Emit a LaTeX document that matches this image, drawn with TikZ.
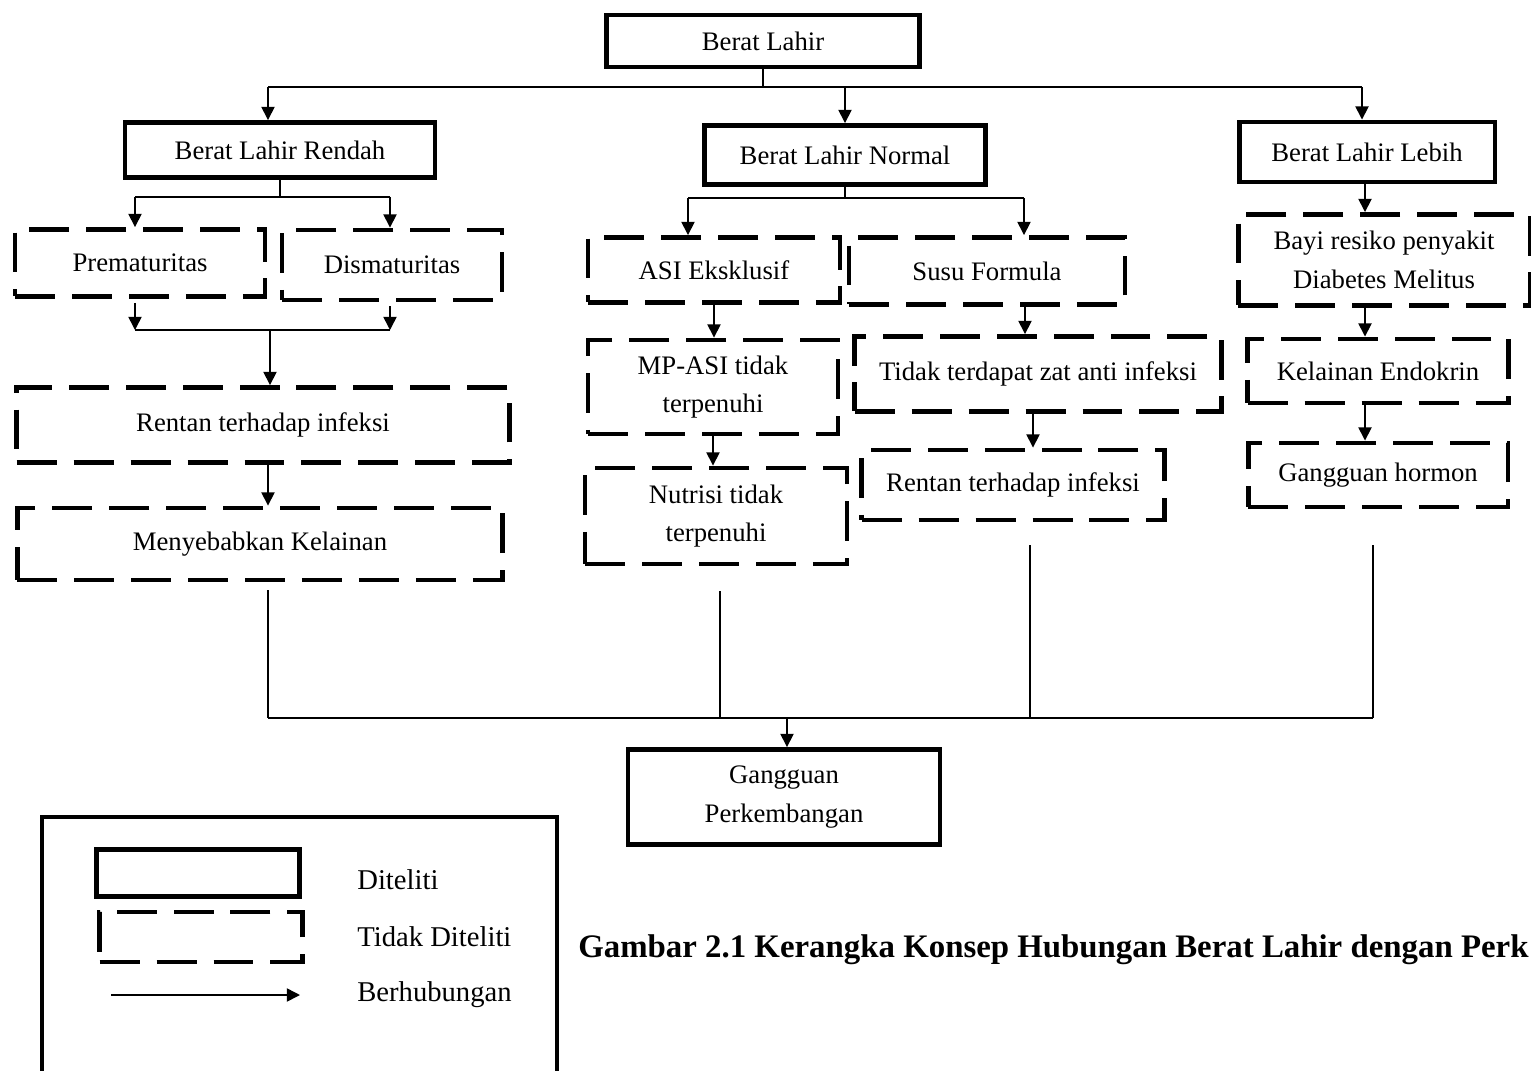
\documentclass[tikz,border=0pt]{standalone}
\usepackage{fontspec}
\setmainfont{Liberation Serif}
\usetikzlibrary{arrows.meta}

\begin{document}
\begin{tikzpicture}[x=0.02cm,y=-0.02cm,
	diteliti/.style={draw, line width=2.8pt, inner sep=0pt, align=center,
		font=\fontsize{15.2}{22}\selectfont},
	tdkditeliti/.style={diteliti, dash pattern=on 0.8cm off 0.34cm},
	garis/.style={line width=0.9pt},
	panah/.style={garis, -{Triangle[length=7.5pt,width=7.5pt]}},
	ket/.style={anchor=west, inner sep=0pt, font=\fontsize{16.3}{18}\selectfont}]

	\useasboundingbox (0,0) rectangle (1531,1071);
	\clip (0,0) rectangle (1531,1071);

	% kotak utama
	\node[diteliti, minimum width=6.26cm, minimum height=1.04cm] (bl) at (763,41) {Berat Lahir};
	\node[diteliti, minimum width=6.2cm, minimum height=1.1cm] (blr) at (280,150) {Berat Lahir Rendah};
	\node[diteliti, minimum width=5.62cm, minimum height=1.18cm] (bln) at (845,155) {Berat Lahir Normal};
	\node[diteliti, minimum width=5.12cm, minimum height=1.2cm] (bll) at (1367,152) {Berat Lahir Lebih};

	\coordinate (hL) at (268,87);
	\coordinate (hM) at (845,87);
	\coordinate (hR) at (1362,87);
	\draw[garis] (bl.south) -- (bl.south |- hL);
	\draw[garis] (hL) -- (hR);
	\draw[panah] (hL) -- (hL |- blr.north);
	\draw[panah] (hM) -- (bln.north);
	\draw[panah] (hR) -- (hR |- bll.north);

	% berat lahir rendah
	\node[tdkditeliti, minimum width=5cm, minimum height=1.34cm] (pre) at (140,263) {Prematuritas};
	\node[tdkditeliti, minimum width=4.4cm, minimum height=1.4cm] (dis) at (392,265) {Dismaturitas};
	\node[tdkditeliti, minimum width=9.86cm, minimum height=1.5cm] (rin1) at (263,425) {Rentan terhadap infeksi};
	\node[tdkditeliti, minimum width=9.72cm, minimum height=1.44cm] (men) at (260,544) {Menyebabkan Kelainan};

	\coordinate (rA) at (135,197);
	\coordinate (rB) at (390,197);
	\coordinate (rC) at (135,330);
	\coordinate (rD) at (390,330);
	\coordinate (rE) at (270,330);
	\draw[garis] (blr.south) -- (blr.south |- rA);
	\draw[garis] (rA) -- (rB);
	\draw[panah] (rA) -- (rA |- pre.north);
	\draw[panah] (rB) -- (rB |- dis.north);
	\draw[panah] (rA |- pre.south) ++(0,4) -- (rC);
	\draw[panah] (rB |- dis.south) ++(0,4) -- (rD);
	\draw[garis] (rC) -- (rD);
	\draw[panah] (rE) -- (rE |- rin1.north);
	\draw[panah] (rin1.south -| 268,0) -- (men.north -| 268,0);

	% berat lahir normal
	\node[tdkditeliti, minimum width=5.04cm, minimum height=1.3cm] (asi) at (714,270) {ASI Eksklusif};
	\node[tdkditeliti, minimum width=5.52cm, minimum height=1.34cm] (susu) at (987,271) {Susu Formula};
	\node[tdkditeliti, minimum width=5cm, minimum height=1.88cm] (mpasi) at (713,387) {MP-ASI tidak\\terpenuhi};
	\node[tdkditeliti, minimum width=5.24cm, minimum height=1.92cm] (nut) at (716,516) {Nutrisi tidak\\terpenuhi};
	\node[tdkditeliti, minimum width=7.34cm, minimum height=1.5cm] (tdk) at (1038,374) {Tidak terdapat zat anti infeksi};
	\node[tdkditeliti, minimum width=6.06cm, minimum height=1.4cm] (rin2) at (1013,485) {Rentan terhadap infeksi};

	\coordinate (nA) at (688,198);
	\coordinate (nB) at (1024,198);
	\coordinate (nC) at (1025,0);
	\coordinate (nD) at (1033,0);
	\draw[garis] (bln.south) -- (bln.south |- nA);
	\draw[garis] (nA) -- (nB);
	\draw[panah] (nA) -- (nA |- asi.north);
	\draw[panah] (nB) -- (nB |- susu.north);
	\draw[panah] (asi.south) -- (asi.south |- mpasi.north);
	\draw[panah] (mpasi.south) -- (mpasi.south |- nut.north);
	\draw[panah] (nC |- susu.south) -- (nC |- tdk.north);
	\draw[panah] (nD |- tdk.south) -- (nD |- rin2.north);

	% berat lahir lebih
	\node[tdkditeliti, minimum width=5.84cm, minimum height=1.82cm] (bayi) at (1384,260) {Bayi resiko penyakit\\Diabetes Melitus};
	\node[tdkditeliti, minimum width=5.22cm, minimum height=1.28cm] (endo) at (1378,371) {Kelainan Endokrin};
	\node[tdkditeliti, minimum width=5.2cm, minimum height=1.28cm] (horm) at (1378,475) {Gangguan hormon};

	\coordinate (lX) at (1365,0);
	\draw[panah] (lX |- bll.south) -- (lX |- bayi.north);
	\draw[panah] (lX |- bayi.south) -- (lX |- endo.north);
	\draw[panah] (lX |- endo.south) -- (lX |- horm.north);

	% gangguan perkembangan
	\node[diteliti, minimum width=6.24cm, minimum height=1.9cm] (gp) at (784,797) {Gangguan\\Perkembangan};

	\coordinate (b1) at (268,718);
	\coordinate (b2) at (720,718);
	\coordinate (b3) at (1030,718);
	\coordinate (b4) at (1373,718);
	\coordinate (b5) at (787,718);
	\draw[garis] (b1 |- men.south) ++(0,8) -- (b1);
	\draw[garis] (b2 |- nut.south) ++(0,25) -- (b2);
	\draw[garis] (b3 |- rin2.south) ++(0,23) -- (b3);
	\draw[garis] (b4 |- horm.south) ++(0,36) -- (b4);
	\draw[garis] (b1) -- (b4);
	\draw[panah] (b5) -- (b5 |- gp.north);

	% keterangan
	\draw[line width=2.3pt] (42,1090) |- (557,817) -- (557,1090);
	\node[diteliti, minimum width=4.06cm, minimum height=0.94cm] (lgA) at (198,873) {};
	\node[tdkditeliti, minimum width=4.06cm, minimum height=1cm] (lgB) at (201,937) {};
	\coordinate (lgC1) at (111,995);
	\coordinate (lgC2) at (300,995);
	\draw[panah] (lgC1) -- (lgC2);
	\node[ket] (lgtA) at (357,880) {Diteliti};
	\node[ket] (lgtB) at (357,937) {Tidak Diteliti};
	\node[ket] (lgtC) at (357,995) {Berhubungan};

	\node[anchor=west, inner sep=0pt, font=\fontsize{18.7}{22}\selectfont\bfseries] (judul) at (578,950)
		{Gambar 2.1 Kerangka Konsep Hubungan Berat Lahir dengan Perk};

\end{tikzpicture}
\end{document}
